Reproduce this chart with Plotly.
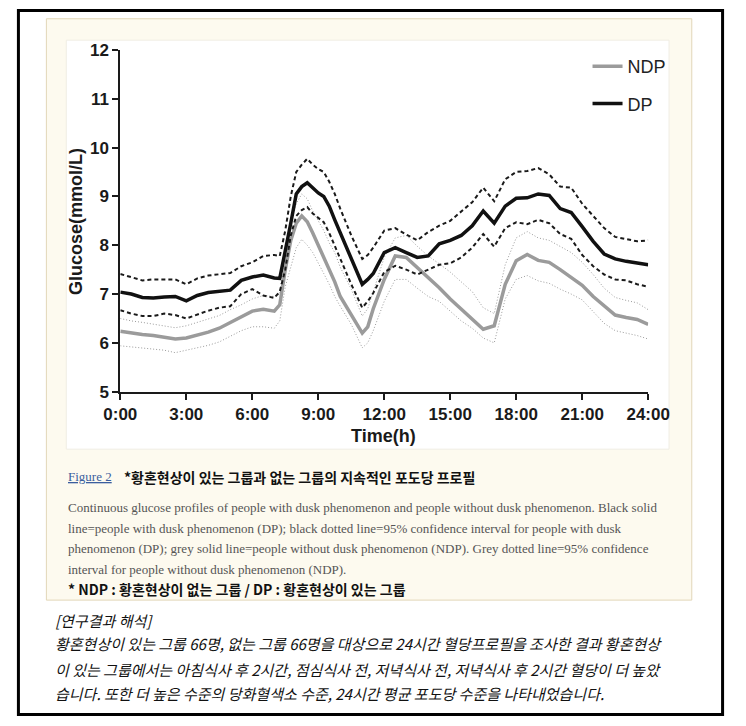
import plotly.graph_objects as go

# ---------------- data ----------------
TIME = [0, 0.5, 1, 1.5, 2, 2.5, 3, 3.5, 4, 4.5, 5, 5.5, 6, 6.5, 7, 7.25, 7.5, 7.75,
        8, 8.25, 8.5, 8.75, 9, 9.25, 9.5, 9.75, 10, 10.5, 11, 11.25, 11.5, 12, 12.5,
        13, 13.5, 14, 14.5, 15, 15.5, 16, 16.5, 17, 17.5, 18, 18.5, 19, 19.5, 20,
        20.5, 21, 21.5, 22, 22.5, 23, 23.5, 24]

DP_MEAN = [7.04, 7.0, 6.93, 6.92, 6.94, 6.95, 6.86, 6.97, 7.03, 7.06, 7.08, 7.28, 7.35, 7.39,
           7.33, 7.32, 7.85, 8.45, 9.05, 9.2, 9.28, 9.17, 9.07, 9.0, 8.8, 8.52, 8.25, 7.75,
           7.2, 7.3, 7.42, 7.85, 7.95, 7.85, 7.75, 7.78, 8.03, 8.1, 8.2, 8.4, 8.7, 8.45,
           8.8, 8.96, 8.97, 9.05, 9.02, 8.75, 8.67, 8.38, 8.08, 7.82, 7.72, 7.67, 7.64, 7.6]

DP_UPPER = [7.41, 7.35, 7.28, 7.3, 7.3, 7.3, 7.2, 7.32, 7.38, 7.4, 7.43, 7.57, 7.65, 7.78,
            7.8, 7.78, 8.3, 9.0, 9.5, 9.65, 9.77, 9.65, 9.56, 9.5, 9.3, 9.05, 8.75, 8.2,
            7.72, 7.8, 7.95, 8.3, 8.35, 8.22, 8.1, 8.27, 8.4, 8.5, 8.7, 8.88, 9.18, 8.9,
            9.35, 9.5, 9.52, 9.58, 9.45, 9.2, 9.18, 8.85, 8.6, 8.35, 8.17, 8.12, 8.08, 8.1]

DP_LOWER = [6.67, 6.6, 6.55, 6.55, 6.6, 6.57, 6.5, 6.58, 6.66, 6.72, 6.75, 7.0, 7.1, 6.97,
            6.92, 7.05, 7.5, 8.2, 8.6, 8.72, 8.78, 8.65, 8.55, 8.47, 8.25, 7.99, 7.7, 7.2,
            6.72, 6.85, 7.02, 7.45, 7.58, 7.5, 7.4, 7.5, 7.6, 7.63, 7.75, 7.95, 8.23, 7.97,
            8.35, 8.47, 8.43, 8.52, 8.45, 8.23, 8.13, 7.8, 7.57, 7.4, 7.3, 7.28, 7.2, 7.15]

NDP_MEAN = [6.24, 6.2, 6.17, 6.15, 6.12, 6.08, 6.1, 6.16, 6.22, 6.3, 6.42, 6.53, 6.65, 6.69,
            6.65, 6.78, 7.5, 8.1, 8.45, 8.6, 8.48, 8.25, 8.0, 7.78, 7.5, 7.25, 6.95, 6.58,
            6.2, 6.33, 6.7, 7.3, 7.78, 7.75, 7.55, 7.35, 7.13, 6.9, 6.7, 6.5, 6.28, 6.35,
            7.2, 7.68, 7.81, 7.69, 7.65, 7.5, 7.35, 7.18, 6.95, 6.75, 6.57, 6.52, 6.48, 6.38]

NDP_UPPER = [6.5, 6.45, 6.42, 6.38, 6.34, 6.31, 6.35, 6.42, 6.48, 6.56, 6.68, 6.78, 6.9, 6.97,
             6.95, 7.0, 7.9, 8.5, 8.85, 9.05, 8.95, 8.7, 8.5, 8.3, 8.05, 7.85, 7.55, 7.1,
             6.55, 6.7, 7.05, 7.75, 8.15, 8.2, 7.98, 7.78, 7.62, 7.45, 7.25, 7.05, 6.72, 6.6,
             7.6, 8.15, 8.28, 8.15, 8.1, 7.97, 7.85, 7.65, 7.4, 7.12, 6.93, 6.87, 6.82, 6.68]

NDP_LOWER = [5.94, 5.92, 5.9, 5.88, 5.85, 5.8, 5.85, 5.9, 5.95, 6.02, 6.13, 6.25, 6.33, 6.33,
             6.3, 6.45, 7.15, 7.55, 7.95, 8.12, 8.0, 7.85, 7.62, 7.42, 7.2, 6.95, 6.75, 6.38,
             5.9, 6.0, 6.25, 6.85, 7.3, 7.3, 7.12, 6.95, 6.85, 6.65, 6.45, 6.3, 6.1, 6.0,
             6.9, 7.3, 7.38, 7.27, 7.22, 7.1, 7.0, 6.88, 6.65, 6.4, 6.25, 6.2, 6.15, 6.08]

X_TICKS = [0, 3, 6, 9, 12, 15, 18, 21, 24]
X_TICK_LABELS = ["0:00", "3:00", "6:00", "9:00", "12:00", "15:00", "18:00", "21:00", "24:00"]
Y_TICKS = [5, 6, 7, 8, 9, 10, 11, 12]

CAPTION_TITLE = "*황혼현상이 있는 그룹과 없는 그룹의 지속적인 포도당 프로필"
CAPTION_LINES = [
    "Continuous glucose profiles of people with dusk phenomenon and people without dusk phenomenon. Black solid",
    "line=people with dusk phenomenon (DP); black dotted line=95% confidence interval for people with dusk",
    "phenomenon (DP); grey solid line=people without dusk phenomenon (NDP). Grey dotted line=95% confidence",
    "interval for people without dusk phenomenon (NDP).",
]
CAPTION_NOTE = "* NDP : 황혼현상이 없는 그룹 / DP : 황혼현상이 있는 그룹"
BODY_LINES = [
    "[연구결과 해석]",
    "황혼현상이 있는 그룹 66명, 없는 그룹 66명을 대상으로 24시간 혈당프로필을 조사한 결과 황혼현상",
    "이 있는 그룹에서는 아침식사 후 2시간, 점심식사 전, 저녁식사 전, 저녁식사 후 2시간 혈당이 더 높았",
    "습니다. 또한 더 높은 수준의 당화혈색소 수준, 24시간 평균 포도당 수준을 나타내었습니다.",
]

# ---------------- figure ----------------
W, H = 746, 726


def px_x(v):
    return v / W


def px_y(v):
    return 1 - v / H


fig = go.Figure()

gray_ci = dict(color="#9a9a9a", width=1, dash="1px,2px")
black_ci = dict(color="#1a1a1a", width=2, dash="4px,3px")

fig.add_trace(go.Scatter(x=TIME, y=NDP_UPPER, mode="lines", line=gray_ci,
                         showlegend=False, legendgroup="ndp"))
fig.add_trace(go.Scatter(x=TIME, y=NDP_LOWER, mode="lines", line=gray_ci,
                         showlegend=False, legendgroup="ndp"))
fig.add_trace(go.Scatter(x=TIME, y=NDP_MEAN, mode="lines", name="NDP",
                         line=dict(color="#9b9b9b", width=3.5), legendgroup="ndp"))
fig.add_trace(go.Scatter(x=TIME, y=DP_UPPER, mode="lines", line=black_ci,
                         showlegend=False, legendgroup="dp"))
fig.add_trace(go.Scatter(x=TIME, y=DP_LOWER, mode="lines", line=black_ci,
                         showlegend=False, legendgroup="dp"))
fig.add_trace(go.Scatter(x=TIME, y=DP_MEAN, mode="lines", name="DP",
                         line=dict(color="#111111", width=3.5), legendgroup="dp"))

axis_font = dict(family="Liberation Sans, Arial, sans-serif", size=17, color="#1a1a1a",
                 weight="bold")

fig.update_xaxes(domain=[px_x(109), px_x(666)], range=[0, 24], tickvals=X_TICKS,
                 ticktext=X_TICK_LABELS, showline=True, linewidth=2, linecolor="#1a1a1a",
                 ticks="outside", ticklen=6, tickwidth=2, tickcolor="#1a1a1a",
                 showgrid=False, zeroline=False, tickfont=axis_font)
fig.update_yaxes(domain=[px_y(393), px_y(42)], range=[5, 12], tickvals=Y_TICKS,
                 showline=True, linewidth=2, linecolor="#1a1a1a",
                 ticks="outside", ticklen=6, tickwidth=2, tickcolor="#1a1a1a",
                 showgrid=False, zeroline=False, tickfont=axis_font)

shapes = [
    # beige caption box
    dict(type="rect", xref="paper", yref="paper", x0=px_x(31), x1=px_x(712),
         y0=px_y(607), y1=px_y(10), fillcolor="#fdfaef", line=dict(color="#e2d7b8", width=1),
         layer="below"),
    # white chart panel
    dict(type="rect", xref="paper", yref="paper", x0=px_x(52), x1=px_x(688),
         y0=px_y(452), y1=px_y(32), fillcolor="#ffffff", line=dict(color="#f0ede4", width=1),
         layer="below"),
    # black frame of the whole picture
    dict(type="rect", xref="paper", yref="paper", x0=px_x(1.5), x1=px_x(744.5),
         y0=px_y(724.5), y1=px_y(1.5), line=dict(color="#000000", width=3),
         fillcolor="rgba(0,0,0,0)", layer="above"),
]

ann = []
title_font = dict(family="Liberation Sans, Arial, sans-serif", size=18, color="#1a1a1a")
ann.append(dict(text="<b>Time(h)</b>", x=px_x(387), y=px_y(438), xref="paper", yref="paper",
                showarrow=False, xanchor="center", yanchor="middle", font=title_font))
ann.append(dict(text="<b>Glucose(mmol/L)</b>", x=px_x(63), y=px_y(218), xref="paper",
                yref="paper", showarrow=False, xanchor="center", yanchor="middle",
                textangle=-90, font=title_font))

ann.append(dict(text="<u>Figure 2</u>", x=px_x(52), y=px_y(480), xref="paper", yref="paper",
                showarrow=False, xanchor="left", yanchor="middle",
                font=dict(family="Liberation Serif, serif", size=13, color="#3b5e9e")))
ann.append(dict(text="<b>" + CAPTION_TITLE + "</b>", x=px_x(111), y=px_y(481), xref="paper",
                yref="paper", showarrow=False, xanchor="left", yanchor="middle",
                font=dict(family="Noto Sans CJK KR, sans-serif", size=14, color="#111111")))
for i, line in enumerate(CAPTION_LINES):
    ann.append(dict(text=line, x=px_x(52), y=px_y(512 + i * 21.2), xref="paper", yref="paper",
                    showarrow=False, xanchor="left", yanchor="middle",
                    font=dict(family="Liberation Serif, serif", size=13, color="#555555")))
ann.append(dict(text="<b>" + CAPTION_NOTE + "</b>", x=px_x(52), y=px_y(596), xref="paper",
                yref="paper", showarrow=False, xanchor="left", yanchor="middle",
                font=dict(family="Noto Sans CJK KR, sans-serif", size=14, color="#111111")))
body_y = [628, 652, 678, 703]
for line, yy in zip(BODY_LINES, body_y):
    ann.append(dict(text="<i>" + line + "</i>", x=px_x(38), y=px_y(yy), xref="paper",
                    yref="paper", showarrow=False, xanchor="left", yanchor="middle",
                    font=dict(family="Noto Sans CJK KR, sans-serif", size=15, color="#111111")))

fig.update_layout(
    width=W, height=H, margin=dict(l=0, r=0, t=0, b=0),
    paper_bgcolor="#ffffff", plot_bgcolor="rgba(0,0,0,0)",
    shapes=shapes, annotations=ann,
    legend=dict(x=px_x(602), y=px_y(40), xanchor="left", yanchor="top",
                bgcolor="rgba(0,0,0,0)", traceorder="grouped", tracegroupgap=11,
                font=dict(family="Liberation Sans, Arial, sans-serif", size=18, color="#222222")),
)

fig.write_html(
    "out.html",
    config={"displayModeBar": False},
    post_script="document.body.style.margin='0';document.body.style.overflow='hidden';",
)
